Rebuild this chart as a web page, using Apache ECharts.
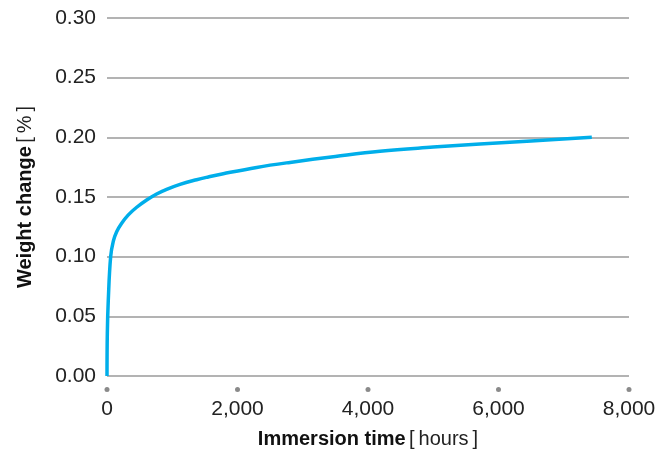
<!DOCTYPE html>
<html><head><meta charset="utf-8">
<script src="https://cdn.jsdelivr.net/npm/echarts@6/dist/echarts.min.js"></script>
<style>html,body{margin:0;padding:0;background:#fff}#c{width:672px;height:459px}</style>
</head><body><div id="c"></div>
<script>
const hours = [0, 5, 20, 56, 97, 148, 225, 327, 455, 608, 761, 914, 1119, 1374, 1552, 1782, 2294, 2805, 3500, 4184, 5000, 5716, 6500, 7430];
const weightChange = [0, 0.036, 0.064, 0.100, 0.113, 0.1209, 0.128, 0.135, 0.1414, 0.1475, 0.1525, 0.1564, 0.1606, 0.1645, 0.1668, 0.1695, 0.1748, 0.1790, 0.1840, 0.1884, 0.1918, 0.1944, 0.1970, 0.2000];
const xTicks = [0, 2000, 4000, 6000, 8000];
const yTicks = [0, 0.05, 0.10, 0.15, 0.20, 0.25, 0.30];

const chart = echarts.init(document.getElementById('c'), null, {renderer: 'canvas'});
const font = '"Liberation Sans", Arial, sans-serif';
chart.setOption({
  animation: false,
  grid: {left: 107, right: 43, top: 18, bottom: 83},
  xAxis: {
    type: 'value', min: xTicks[0], max: xTicks[xTicks.length - 1], interval: 2000,
    axisLine: {show: false}, axisTick: {show: false}, splitLine: {show: false},
    axisLabel: {
      margin: 11, fontFamily: font,
      formatter: v => '{dot|}\n{val|' + v.toLocaleString('en-US') + '}',
      rich: {
        dot: {width: 5, height: 5, borderRadius: 2.5, backgroundColor: '#8a8a8a', align: 'center'},
        val: {fontSize: 21, color: '#222', lineHeight: 34, fontFamily: font, align: 'center'}
      }
    },
    name: '{b|Immersion time} {n|[\u2009hours\u2009]}', nameLocation: 'middle', nameGap: 53,
    nameTextStyle: {
      rich: {
        b: {fontSize: 20, fontWeight: 'bold', color: '#111', fontFamily: font},
        n: {fontSize: 20, color: '#222', fontFamily: font}
      }
    }
  },
  yAxis: {
    type: 'value', min: 0, max: 0.30, interval: 0.05,
    axisLine: {show: false}, axisTick: {show: false},
    splitLine: {lineStyle: {color: '#9a9a9a', width: 1.5}},
    axisLabel: {margin: 11, fontSize: 21, color: '#222', fontFamily: font, formatter: v => v.toFixed(2)},
    name: '{b|Weight change} {n|[\u2009%\u2009]}', nameLocation: 'middle', nameGap: 72, nameRotate: 90,
    nameTextStyle: {
      rich: {
        b: {fontSize: 20, fontWeight: 'bold', color: '#111', fontFamily: font},
        n: {fontSize: 20, color: '#222', fontFamily: font}
      }
    }
  },
  series: [{
    type: 'line', smooth: 0.4, showSymbol: false,
    data: hours.map((h, i) => [h, weightChange[i]]),
    lineStyle: {color: '#00aeea', width: 3.5}
  }]
});
</script></body></html>
